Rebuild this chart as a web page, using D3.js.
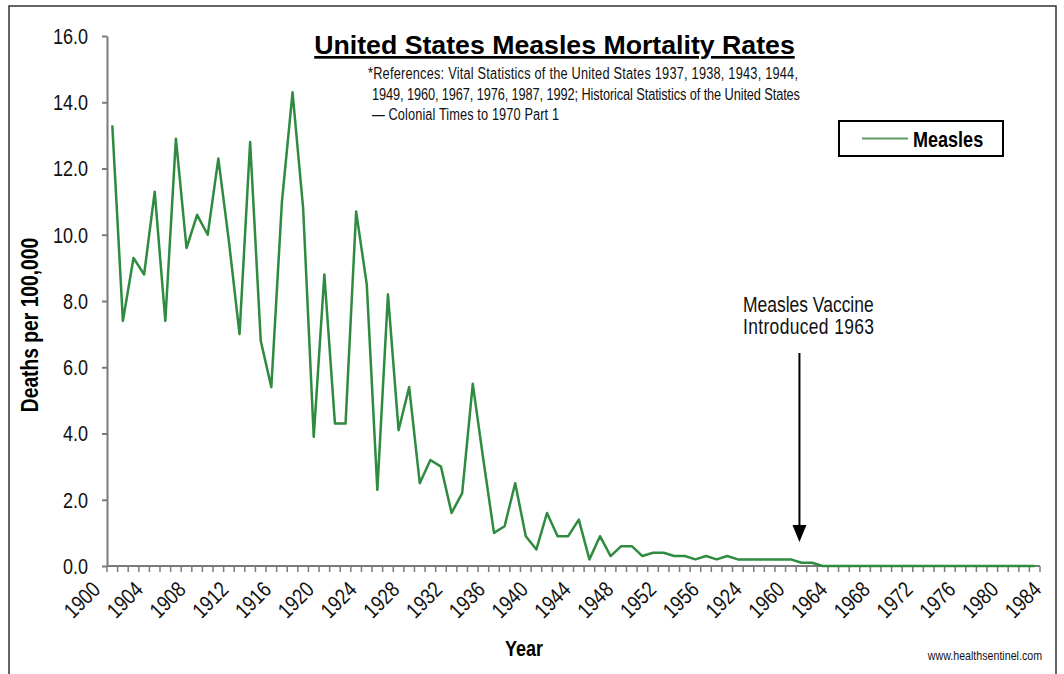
<!DOCTYPE html>
<html>
<head>
<meta charset="utf-8">
<script src="https://cdn.jsdelivr.net/npm/d3@7"></script>
<style>
  html, body { margin: 0; padding: 0; background: #fff; }
  svg { display: block; }
</style>
</head>
<body>
<svg id="chart" width="1064" height="674"></svg>
<script>
// ---- Data ----
const categories = d3.range(1900, 1988); // 88 plotted categories
const measles = [
  13.3, 7.4, 9.3, 8.8, 11.3, 7.4, 12.9, 9.6, 10.6, 10.0,
  12.3, 9.8, 7.0, 12.8, 6.8, 5.4, 11.0, 14.3, 10.8, 3.9,
  8.8, 4.3, 4.3, 10.7, 8.5, 2.3, 8.2, 4.1, 5.4, 2.5,
  3.2, 3.0, 1.6, 2.2, 5.5, 3.2, 1.0, 1.2, 2.5, 0.9,
  0.5, 1.6, 0.9, 0.9, 1.4, 0.2, 0.9, 0.3, 0.6, 0.6,
  0.3, 0.4, 0.4, 0.3, 0.3, 0.2, 0.3, 0.2, 0.3, 0.2,
  0.2, 0.2, 0.2, 0.2, 0.2, 0.1, 0.1, 0.0, 0.0, 0.0,
  0.0, 0.0, 0.0, 0.0, 0.0, 0.0, 0.0, 0.0, 0.0, 0.0,
  0.0, 0.0, 0.0, 0.0, 0.0, 0.0, 0.0, 0.0
];
const xTickLabels = ["1900","1904","1908","1912","1916","1920","1924","1928","1932","1936",
  "1940","1944","1948","1952","1956","1924","1960","1964","1968","1972","1976","1980","1984"];
const yTicks = [0, 2, 4, 6, 8, 10, 12, 14, 16];
const vaccineIndex = 65; // category where the annotation arrow points

// ---- Layout ----
const svg = d3.select("#chart");
const plot = { left: 107, right: 1040, top: 36, bottom: 566 };
const axisColor = "#7a7a7a";
const lineColor = "#2e8b3f";
const sans = '"Liberation Sans", Arial, sans-serif';
const NX = 0.82; // horizontal squeeze to mimic a condensed face

// helper: condensed text placed at (px,py)
function ctext(g, px, py, size, str, opts = {}) {
  const t = g.append("text")
    .attr("transform", `translate(${px},${py})${opts.rotate ? ` rotate(${opts.rotate})` : ""} scale(${NX},1)`)
    .attr("font-family", sans).attr("font-size", size)
    .attr("fill", opts.fill || "#111")
    .attr("text-anchor", opts.anchor || "start")
    .text(str);
  if (opts.bold) t.attr("font-weight", "bold");
  if (opts.len) t.attr("textLength", opts.len / NX).attr("lengthAdjust", "spacing");
  return t;
}

// frame
svg.append("path")
  .attr("d", "M9,680 L9,6 L1056,6 L1056,680")
  .attr("fill", "none").attr("stroke", "#333").attr("stroke-width", 1.5);

const x = d3.scaleBand().domain(categories).range([plot.left, plot.right]).padding(0);
const y = d3.scaleLinear().domain([0, 16]).range([plot.bottom, plot.top]);
const xLab = d3.scalePoint().domain(d3.range(xTickLabels.length)).range([101, 1042]);

// y axis
const yAxis = svg.append("g").attr("transform", `translate(${plot.left},0)`)
  .call(d3.axisLeft(y).tickValues(yTicks).tickFormat(d3.format(".1f")).tickSize(5).tickSizeOuter(0).tickPadding(14));
yAxis.select(".domain").attr("stroke", axisColor).attr("stroke-width", 2);
yAxis.selectAll(".tick line").attr("stroke", axisColor).attr("stroke-width", 2);
yAxis.selectAll(".tick text")
  .attr("x", 0).attr("dy", "0.34em")
  .attr("transform", `translate(-19,0) scale(${NX},1)`)
  .attr("font-family", sans).attr("font-size", 22).attr("fill", "#111");

// x axis line + minor ticks at category boundaries
const xAxis = svg.append("g").attr("transform", `translate(0,${plot.bottom})`);
xAxis.append("line").attr("x1", plot.left).attr("x2", plot.right)
  .attr("stroke", axisColor).attr("stroke-width", 2);
const bounds = categories.map(c => x(c)).concat([x(categories[categories.length - 1]) + x.bandwidth()]);
xAxis.selectAll("line.minor").data(bounds).join("line").attr("class", "minor")
  .attr("x1", d => d).attr("x2", d => d).attr("y1", 0).attr("y2", 6)
  .attr("stroke", axisColor).attr("stroke-width", 1.5);

// x tick labels
const xl = svg.append("g").attr("transform", `translate(0,${plot.bottom})`)
  .call(d3.axisBottom(xLab).tickFormat(i => xTickLabels[i]).tickSize(0));
xl.select(".domain").remove();
xl.selectAll(".tick text")
  .attr("x", 0).attr("y", 0).attr("dy", 0)
  .attr("transform", `translate(0,25) rotate(-45) scale(${NX},1)`)
  .style("text-anchor", "end")
  .attr("font-family", sans).attr("font-size", 22).attr("fill", "#111");

// data line
const line = d3.line()
  .x((d, i) => x(categories[i]) + x.bandwidth() / 2)
  .y(d => y(d));
svg.append("path").datum(measles)
  .attr("d", line).attr("fill", "none")
  .attr("stroke", lineColor).attr("stroke-width", 2.5).attr("stroke-linejoin", "round");

// title
svg.append("text").attr("x", 554.5).attr("y", 54)
  .attr("text-anchor", "middle")
  .attr("font-family", sans).attr("font-weight", "bold")
  .attr("font-size", 26.7).attr("fill", "#000")
  .attr("text-decoration", "underline")
  .text("United States Measles Mortality Rates");

// references
const refs = ["*References: Vital Statistics of the United States 1937, 1938, 1943, 1944,",
  "1949, 1960, 1967, 1976, 1987, 1992; Historical Statistics of the United States",
  "\u2014 Colonial Times to 1970 Part 1"];
const refX = [368, 372, 372];
const refLen = [430, 428, 187];
const rg = svg.append("g");
refs.forEach((r, i) => ctext(rg, refX[i], 79 + i * 20.5, 15.6, r, { len: refLen[i] }));

// legend
const lg = svg.append("g");
lg.append("rect").attr("x", 839).attr("y", 121).attr("width", 164).attr("height", 35)
  .attr("fill", "#fff").attr("stroke", "#000").attr("stroke-width", 2);
lg.append("line").attr("x1", 862).attr("x2", 908).attr("y1", 138.5).attr("y2", 138.5)
  .attr("stroke", "#5f9a62").attr("stroke-width", 2);
ctext(lg, 913, 147, 22, "Measles", { bold: true, fill: "#000" });

// annotation
const ann = svg.append("g");
ctext(ann, 743, 312, 21.3, "Measles Vaccine");
ctext(ann, 743, 334, 21.3, "Introduced 1963", { len: 131 });
const ax = x(categories[vaccineIndex]) + x.bandwidth() / 2 - 2;
ann.append("line").attr("x1", ax).attr("x2", ax).attr("y1", 353).attr("y2", 527)
  .attr("stroke", "#000").attr("stroke-width", 2);
ann.append("path").attr("d", `M${ax - 7},525 L${ax + 7},525 L${ax},542 Z`).attr("fill", "#000");

// axis titles
ctext(svg, 38, 325, 23.5, "Deaths per 100,000", { bold: true, fill: "#000", anchor: "middle", rotate: -90 });
ctext(svg, 524, 656, 22, "Year", { bold: true, fill: "#000", anchor: "middle" });

// source
ctext(svg, 1042, 660, 13, "www.healthsentinel.com", { anchor: "end" });
</script>
</body>
</html>
